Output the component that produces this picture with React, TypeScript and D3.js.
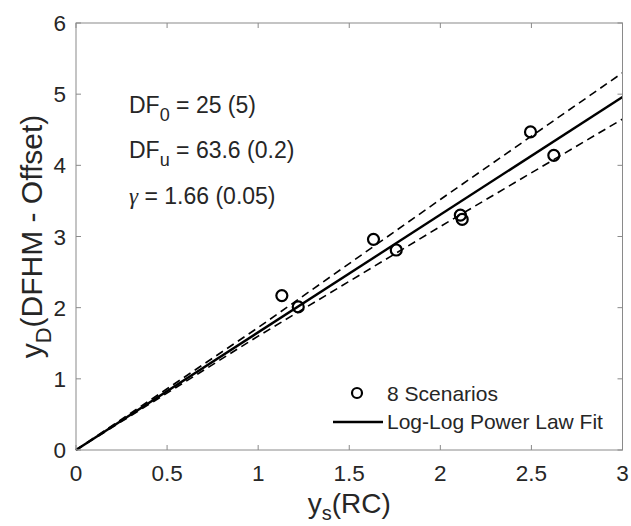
import React from "react";
import * as d3 from "d3";

const scenarioX = [1.13, 1.22, 1.633, 1.758, 2.11, 2.12, 2.495, 2.623];
const scenarioY = [2.17, 2.01, 2.96, 2.81, 3.3, 3.24, 4.47, 4.14];
const fitX = [0, 3];
const fitY = [0, 4.96];
const bandX = [0, 1, 2, 3];
const bandUpper = [0, 1.72, 3.52, 5.3];
const bandLower = [0, 1.6, 3.14, 4.65];
const xTicks = [0, 0.5, 1, 1.5, 2, 2.5, 3];
const yTicks = [0, 1, 2, 3, 4, 5, 6];
const legendLabels = ["8 Scenarios", "Log-Log Power Law Fit"];

const W = 631;
const H = 526;
const L = 76, R = 622.5, T = 23, B = 450;
const FONT = "'Liberation Sans', Arial, Helvetica, sans-serif";

export default function App() {
  const x = d3.scaleLinear().domain([0, 3]).range([L, R]);
  const y = d3.scaleLinear().domain([0, 6]).range([B, T]);
  const line = d3
    .line<[number, number]>()
    .x((d) => x(d[0]))
    .y((d) => y(d[1]));
  const fitPts = fitX.map((v, i) => [v, fitY[i]] as [number, number]);
  const upPts = bandX.map((v, i) => [v, bandUpper[i]] as [number, number]);
  const loPts = bandX.map((v, i) => [v, bandLower[i]] as [number, number]);
  const axisColor = "#8a8a8a";
  const textColor = "#262626";
  const tickLen = 5;

  return (
    <svg
      width={W}
      height={H}
      style={{ position: "absolute", left: 0, top: 0, background: "#fff" }}
      fontFamily={FONT}
    >
      <rect x={0} y={0} width={W} height={H} fill="#fff" />
      <path d={line(upPts) || ""} fill="none" stroke="#000" strokeWidth={1.6} strokeDasharray="8,5" />
      <path d={line(loPts) || ""} fill="none" stroke="#000" strokeWidth={1.6} strokeDasharray="8,5" />
      <path d={line(fitPts) || ""} fill="none" stroke="#000" strokeWidth={2.4} />
      {scenarioX.map((v, i) => (
        <circle key={i} cx={x(v)} cy={y(scenarioY[i])} r={5.5} fill="none" stroke="#000" strokeWidth={2.2} />
      ))}
      <rect x={L} y={T} width={R - L} height={B - T} fill="none" stroke={axisColor} strokeWidth={1} />
      {xTicks.map((t) => (
        <g key={"x" + t}>
          <line x1={x(t)} x2={x(t)} y1={B} y2={B - tickLen} stroke={axisColor} />
          <line x1={x(t)} x2={x(t)} y1={T} y2={T + tickLen} stroke={axisColor} />
          <text x={x(t)} y={481} textAnchor="middle" fontSize={22.5} fill={textColor}>
            {String(t)}
          </text>
        </g>
      ))}
      {yTicks.map((t) => (
        <g key={"y" + t}>
          <line x1={L} x2={L + tickLen} y1={y(t)} y2={y(t)} stroke={axisColor} />
          <line x1={R} x2={R - tickLen} y1={y(t)} y2={y(t)} stroke={axisColor} />
          <text x={66} y={y(t) + 8} textAnchor="end" fontSize={22.5} fill={textColor}>
            {String(t)}
          </text>
        </g>
      ))}
      <text x={(L + R) / 2} y={513} textAnchor="middle" fontSize={28} fill={textColor}>
        y<tspan fontSize={20} dy={7}>s</tspan>
        <tspan dy={-7}>(RC)</tspan>
      </text>
      <text
        transform={`translate(42, ${(T + B) / 2}) rotate(-90)`}
        textAnchor="middle"
        fontSize={30}
        fill={textColor}
      >
        y<tspan fontSize={22} dy={9}>D</tspan>
        <tspan dy={-9}>(DFHM - Offset)</tspan>
      </text>
      <text x={129} y={112.5} fontSize={23} fill={textColor}>
        DF<tspan fontSize={18} dy={8}>0</tspan>
        <tspan dy={-8}> = 25 (5)</tspan>
      </text>
      <text x={129} y={157.5} fontSize={23} fill={textColor}>
        DF<tspan fontSize={18} dy={8}>u</tspan>
        <tspan dy={-8}> = 63.6 (0.2)</tspan>
      </text>
      <text x={129} y={203.5} fontSize={23} fill={textColor}>
        <tspan fontFamily="'Liberation Serif', 'DejaVu Serif', serif" fontStyle="italic">γ</tspan>
        <tspan> = 1.66 (0.05)</tspan>
      </text>
      <circle cx={357} cy={393} r={5} fill="none" stroke="#000" strokeWidth={2.2} />
      <text x={387} y={401} fontSize={21} fill={textColor}>
        {legendLabels[0]}
      </text>
      <line x1={333} x2={383} y1={422} y2={422} stroke="#000" strokeWidth={2.4} />
      <text x={387} y={429} fontSize={21} fill={textColor}>
        {legendLabels[1]}
      </text>
    </svg>
  );
}
